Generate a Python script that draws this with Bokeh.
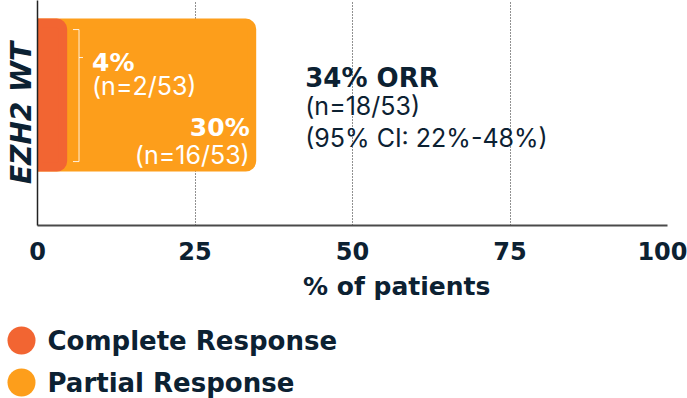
import numpy as np
from bokeh.plotting import figure
from bokeh.models import Range1d, FixedTicker, ColumnDataSource, Title
from bokeh.embed import file_html
from bokeh.resources import INLINE
from bokeh.core.properties import value

# ---- data ----
group = "EZH2 WT"
categories = ["Complete Response", "Partial Response"]
percent = [4, 30]
counts = ["(n=2/53)", "(n=16/53)"]
colors = ["#f26532", "#fd9e1b"]
orr_lines = ["34% ORR", "(n=18/53)", "(95% CI: 22%-48%)"]
x_ticks = [0, 25, 50, 75, 100]
x_title = "% of patients"

NAVY = "#0c2132"
BOLD = "DejaVu Sans"
REG = "Inter"

ends = list(np.cumsum(percent))

p = figure(width=687, height=318, x_range=Range1d(0, 100), y_range=Range1d(-0.853, 0.618),
           output_backend="svg", toolbar_location=None,
           min_border_left=37, min_border_right=20, min_border_top=0, min_border_bottom=93)
p.outline_line_color = None

src = ColumnDataSource(dict(y=[0, 0], left=[0, 0], right=ends[::-1], color=colors[::-1]))
p.hbar(y="y", left="left", right="right", height=0.941, fill_color="color", line_color="color",
       line_width=9, line_join="round", border_radius=(0, 6, 6, 0), source=src)

# bracket
bx, btop, bbot, bmid = 6.59, 0.428, -0.435, 0.245
p.segment(x0=[bx, bx - 0.96, bx - 0.96, bx], y0=[btop, btop, bbot, bmid],
          x1=[bx, bx, bx, bx + 0.63], y1=[bbot, btop, bbot, bmid],
          line_color="white", line_width=1, line_alpha=0.85)

# in-bar labels
p.text(x=[8.65], y=[0.212], text=[f"{percent[0]}%"], text_font=value(BOLD), text_font_style="bold",
       text_font_size="25px", text_color="white", text_baseline="alphabetic", text_align="left")
p.text(x=[8.65], y=[0.062], text=[counts[0]], text_font=value(REG), text_font_size="25px",
       text_color="white", text_baseline="alphabetic", text_align="left")
p.text(x=[ends[-1]], y=[-0.212], x_offset=-2, text=[f"{percent[1]}%"], text_font=value(BOLD),
       text_font_style="bold", text_font_size="25px", text_color="white",
       text_baseline="alphabetic", text_align="right")
p.text(x=[ends[-1]], y=[-0.395], x_offset=-2, text=[counts[1]], text_font=value(REG),
       text_font_size="25px", text_color="white", text_baseline="alphabetic", text_align="right")

# ORR labels
p.text(x=[42.5], y=[0.114], text=[orr_lines[0]], text_font=value(BOLD), text_font_style="bold",
       text_font_size="26px", text_color=NAVY, text_baseline="alphabetic")
p.text(x=[42.5, 42.5], y=[-0.075, -0.278], text=orr_lines[1:], text_font=value(REG),
       text_font_size="25px", text_color=NAVY, text_baseline="alphabetic")

# axes
p.xaxis.ticker = FixedTicker(ticks=x_ticks)
p.xaxis.major_label_text_font = BOLD
p.xaxis.major_label_text_font_style = "bold"
p.xaxis.major_label_text_font_size = "24px"
p.xaxis.major_label_text_color = NAVY
p.xaxis.major_label_standoff = 10
p.xaxis.major_tick_line_color = None
p.xaxis.minor_tick_line_color = None
p.xaxis.axis_line_color = "#4a4a4a"
p.xaxis.axis_line_width = 2

p.yaxis.ticker = FixedTicker(ticks=[])
p.yaxis.major_tick_line_color = None
p.yaxis.minor_tick_line_color = None
p.yaxis.axis_line_color = "#222222"
p.yaxis.axis_line_width = 1.5
p.yaxis.axis_label = group
p.yaxis.axis_label_standoff = 0
p.yaxis.axis_label_text_font = BOLD
p.yaxis.axis_label_text_font_style = "bold italic"
p.yaxis.axis_label_text_font_size = "28px"
p.yaxis.axis_label_text_color = NAVY

p.ygrid.grid_line_color = None
p.xgrid.grid_line_color = "#222222"
p.xgrid.grid_line_dash = "1 2"
p.xgrid.grid_line_width = 1

p.add_layout(Title(text=x_title, align="left", offset=265.5, standoff=15,
                   text_font=BOLD, text_font_style="bold", text_font_size="25px",
                   text_color=NAVY), "below")

# legend figure
lg = figure(width=687, height=80, x_range=Range1d(-21, 666), y_range=Range1d(1.381, -0.524),
            output_backend="svg", toolbar_location=None, x_axis_type=None, y_axis_type=None,
            min_border=0)
lg.outline_line_color = None
lg.grid.visible = False
idx = list(range(len(categories)))
lg.scatter(x=[0] * len(idx), y=idx, size=28, fill_color=colors, line_color=None)
lg.text(x=[0] * len(idx), y=idx, text=categories, x_offset=26, text_baseline="middle",
        text_font=value(BOLD), text_font_style="bold", text_font_size="26px", text_color=NAVY)

open("out.html", "w").write(file_html([p, lg], INLINE))
